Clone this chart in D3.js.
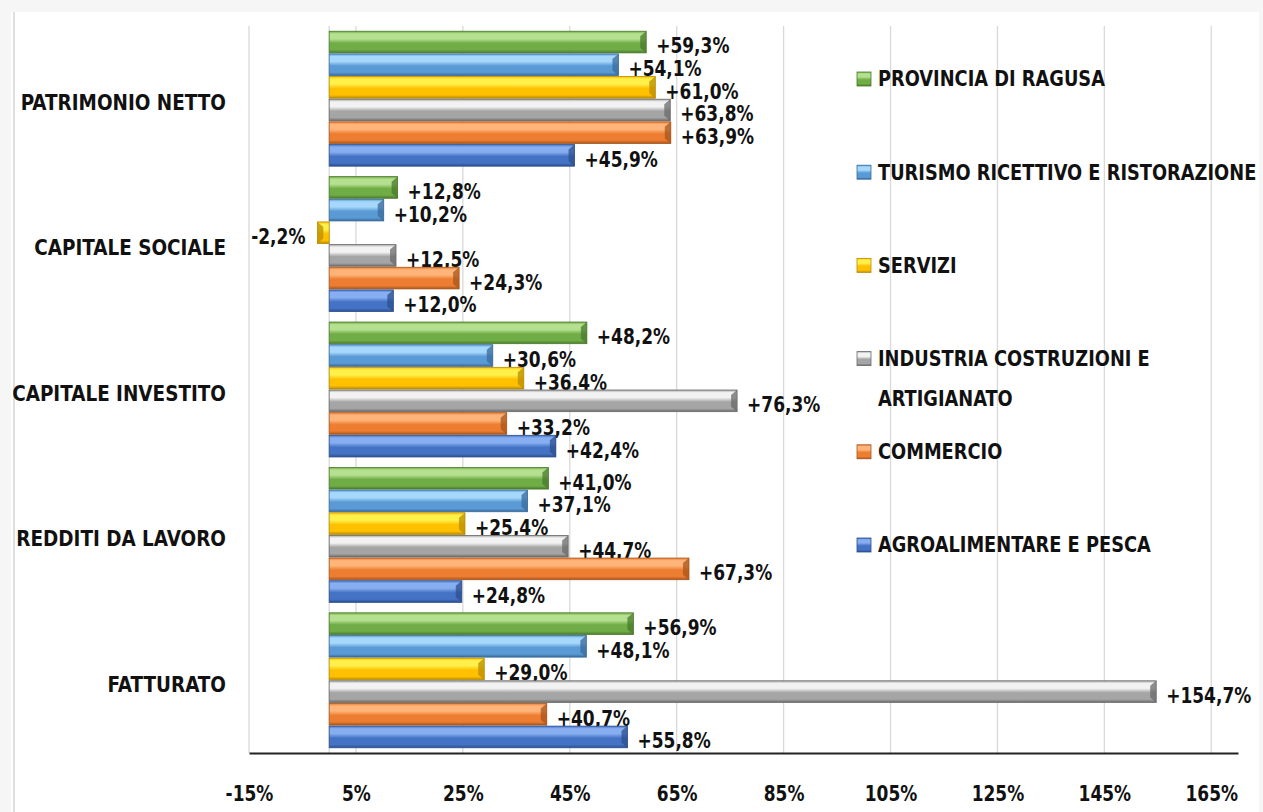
<!DOCTYPE html>
<html>
<head>
<meta charset="utf-8">
<script src="https://cdn.jsdelivr.net/npm/d3@7"></script>
<style>
  html, body { margin: 0; padding: 0; background: #f6f6f6; }
  svg text { font-family: "Liberation Sans Narrow", "DejaVu Sans Condensed", "Liberation Sans", sans-serif; font-weight: bold; fill: #111; }
</style>
</head>
<body>
<div id="chart"></div>
<script>
// Categories from top to bottom
const categories = [
  "PATRIMONIO NETTO",
  "CAPITALE SOCIALE",
  "CAPITALE INVESTITO",
  "REDDITI DA LAVORO",
  "FATTURATO",
];

// Series in drawing order inside each group (top to bottom)
const seriesNames = [
  "PROVINCIA DI RAGUSA",
  "TURISMO RICETTIVO E RISTORAZIONE",
  "SERVIZI",
  "INDUSTRIA COSTRUZIONI E ARTIGIANATO",
  "COMMERCIO",
  "AGROALIMENTARE E PESCA",
];

// values per series, same order as categories
const provincia = [59.3, 12.8, 48.2, 41.0, 56.9];
const turismo = [54.1, 10.2, 30.6, 37.1, 48.1];
const servizi = [61.0, -2.2, 36.4, 25.4, 29.0];
const industria = [63.8, 12.5, 76.3, 44.7, 154.7];
const commercio = [63.9, 24.3, 33.2, 67.3, 40.7];
const agro = [45.9, 12.0, 42.4, 24.8, 55.8];

const tickValues = [-15, 5, 25, 45, 65, 85, 105, 125, 145, 165];

const legendLines = [
  ["PROVINCIA DI RAGUSA"],
  ["TURISMO RICETTIVO E RISTORAZIONE"],
  ["SERVIZI"],
  ["INDUSTRIA COSTRUZIONI E", "ARTIGIANATO"],
  ["COMMERCIO"],
  ["AGROALIMENTARE E PESCA"],
];

const seriesValues = [provincia, turismo, servizi, industria, commercio, agro];

// light, base, dark
const palette = [
  ["#b5e08f", "#70ad47", "#4a7a2c"],
  ["#a6d8fb", "#5b9bd5", "#386b9c"],
  ["#fff04a", "#ffc000", "#b98c00"],
  ["#f2f2f2", "#a5a5a5", "#6a6a6a"],
  ["#ffb47a", "#ed7d31", "#a8551c"],
  ["#87aef0", "#4472c4", "#2c4f8e"],
];

// the original font is narrower than what is installed
const numScale = 0.86;
const wordScale = 0.93;
const legendScale = 0.9;

const W = 1263, H = 812;
const svg = d3.select("#chart").append("svg")
  .attr("width", W).attr("height", H);

// chart area
svg.append("rect").attr("x", 11).attr("y", 12)
  .attr("width", 1248).attr("height", H - 12).attr("fill", "#fff");
svg.append("line").attr("x1", 14).attr("x2", 14).attr("y1", 12).attr("y2", H)
  .attr("stroke", "#dedede").attr("stroke-width", 2);

const defs = svg.append("defs");
palette.forEach((c, i) => {
  const g = defs.append("linearGradient").attr("id", "grad" + i)
    .attr("x1", 0).attr("x2", 0).attr("y1", 0).attr("y2", 1);
  g.append("stop").attr("offset", "0%").attr("stop-color", c[1]);
  g.append("stop").attr("offset", "12%").attr("stop-color", c[0]);
  g.append("stop").attr("offset", "35%").attr("stop-color", c[0]);
  g.append("stop").attr("offset", "55%").attr("stop-color", c[1]);
  g.append("stop").attr("offset", "85%").attr("stop-color", c[1]);
  g.append("stop").attr("offset", "100%").attr("stop-color", c[2]);
});

const plotTop = 26, plotBottom = 753;
const x = d3.scaleLinear().domain([-15, 170]).range([249, 1238]);
const y = d3.scaleBand().domain(categories).range([plotTop, plotBottom])
  .paddingInner(0.065).paddingOuter(0.0325);
const ys = d3.scaleBand().domain(seriesNames).range([0, y.bandwidth()]);

// gridlines
svg.append("g").selectAll("line").data(tickValues).enter().append("line")
  .attr("x1", (d) => x(d)).attr("x2", (d) => x(d))
  .attr("y1", plotTop).attr("y2", plotBottom)
  .attr("stroke", "#d9d9d9").attr("stroke-width", 1.3);

// zero axis
svg.append("line").attr("x1", x(0)).attr("x2", x(0))
  .attr("y1", plotTop).attr("y2", plotBottom)
  .attr("stroke", "#d9d9d9").attr("stroke-width", 1.3);

// bottom axis
const xAxis = svg.append("g")
  .attr("transform", `translate(0,${plotBottom})`)
  .call(d3.axisBottom(x).tickValues(tickValues).tickSize(0).tickPadding(32)
    .tickFormat((d) => d + "%"));
xAxis.select(".domain").attr("stroke", "#222").attr("stroke-width", 2);
xAxis.selectAll("text").style("font-size", "22px").attr("fill", "#111")
  .attr("transform", `scale(${numScale},1)`);

// category labels
svg.append("g").selectAll("text").data(categories).enter().append("text")
  .attr("transform", (d) =>
    `translate(226,${y(d) + y.bandwidth() / 2 + 5}) scale(${wordScale},1)`)
  .attr("dominant-baseline", "middle")
  .attr("text-anchor", "end")
  .style("font-size", "22px")
  .text((d) => d);

// bars
const barData = [];
seriesNames.forEach((s, si) => {
  categories.forEach((c, ci) => {
    barData.push({ s, si, c, v: seriesValues[si][ci] });
  });
});

const bars = svg.append("g").selectAll("g").data(barData).enter().append("g");

bars.append("rect")
  .attr("x", (d) => x(Math.min(0, d.v)))
  .attr("y", (d) => y(d.c) + ys(d.s) + 0.5)
  .attr("width", (d) => Math.abs(x(d.v) - x(0)))
  .attr("height", ys.bandwidth() - 1)
  .attr("fill", (d) => `url(#grad${d.si})`)
  .attr("stroke", (d) => palette[d.si][2])
  .attr("stroke-width", 0.8);

// bevel at bar end
bars.append("path")
  .attr("d", (d) => {
    const top = y(d.c) + ys(d.s) + 0.5;
    const bot = top + ys.bandwidth() - 1;
    const e = x(d.v);
    const k = d.v >= 0 ? -1 : 1;
    const b = Math.min(6, Math.abs(x(d.v) - x(0)) / 2);
    return `M${e},${top}L${e + k * b},${top + 5}L${e + k * b},${bot - 5}L${e},${bot}Z`;
  })
  .attr("fill", (d) => palette[d.si][2])
  .attr("opacity", 0.75);

// value labels
const fmt = (v) => (v >= 0 ? "+" : "") + v.toFixed(1).replace(".", ",") + "%";
bars.append("text")
  .attr("transform", (d) => {
    const tx = d.v >= 0 ? x(d.v) + 10 : x(d.v) - 12;
    const ty = y(d.c) + ys(d.s) + ys.bandwidth() / 2 + 5;
    return `translate(${tx},${ty}) scale(${numScale},1)`;
  })
  .attr("dominant-baseline", "middle")
  .attr("text-anchor", (d) => (d.v >= 0 ? "start" : "end"))
  .style("font-size", "22px")
  .text((d) => fmt(d.v));

// legend
const legend = svg.append("g").selectAll("g").data(legendLines).enter().append("g")
  .attr("transform", (d, i) => `translate(857,${79 + i * 93.2})`);
legend.append("rect")
  .attr("x", 0).attr("y", -7).attr("width", 14).attr("height", 14)
  .attr("fill", (d, i) => `url(#grad${i})`)
  .attr("stroke", (d, i) => palette[i][2]).attr("stroke-width", 0.8);
legend.each(function (lines) {
  const g = d3.select(this);
  lines.forEach((t, li) => {
    g.append("text")
      .attr("transform", `translate(21,${li * 40 + 1}) scale(${legendScale},1)`)
      .attr("dominant-baseline", "middle")
      .style("font-size", "22px")
      .text(t);
  });
});
</script>
</body>
</html>
